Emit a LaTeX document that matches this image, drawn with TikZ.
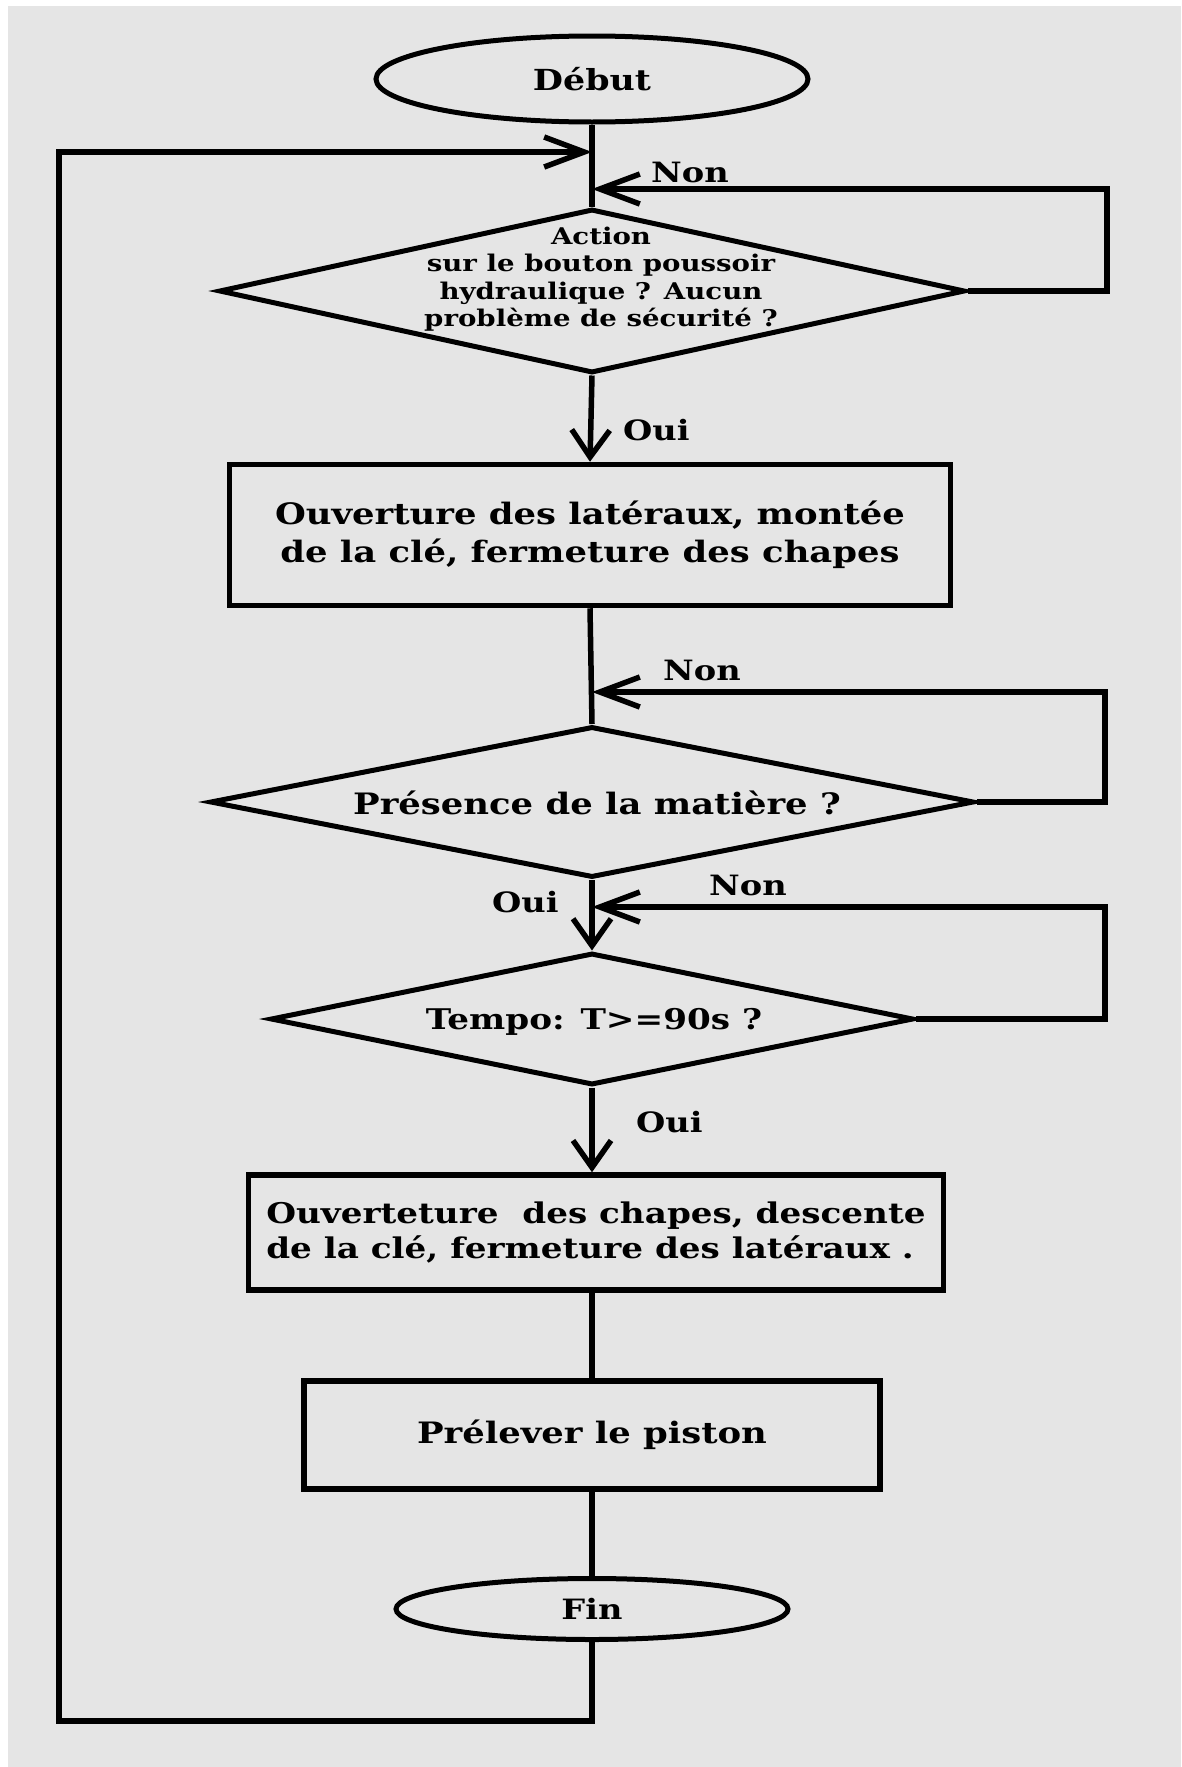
\documentclass[tikz,border=0pt]{standalone}
\usepackage{fontspec}
\setmainfont{DejaVu Serif}[FakeStretch=1.2]
\usetikzlibrary{shapes.geometric,arrows.meta}
\definecolor{bggray}{HTML}{E5E5E5}
\begin{document}
\begin{tikzpicture}[x=1pt,y=-1pt,
  ln/.style={line width=5.5pt},
  harr/.style={ln,-{Straight Barb[length=40pt,width=30pt]}},
  varr/.style={ln,-{Straight Barb[length=27pt,width=38pt]}},
  term/.style={ellipse,draw,line width=5pt,inner sep=0pt},
  dec/.style={diamond,draw,line width=5pt,inner sep=0pt},
  proc/.style={rectangle,draw,line width=5.5pt,inner sep=0pt},
  bigtxt/.style={font=\bfseries\fontsize{29.5}{38}\selectfont},
  lab/.style={anchor=base west,inner sep=0pt,font=\bfseries\fontsize{28}{32}\selectfont},
  txt/.style={align=center,inner sep=0pt}]
\fill[white] (0,0) rectangle (1181,1767);
\fill[bggray] (8,6) rectangle (1181,1767);
\useasboundingbox (0,0) rectangle (1181,1767);

% terminals
\node[term,minimum width=432pt,minimum height=86pt,font=\bfseries\fontsize{29}{34}\selectfont] (deb) at (592,79) {Début};
\node[term,minimum width=392pt,minimum height=61pt,font=\bfseries\fontsize{28}{32}\selectfont] (fin) at (592,1609) {Fin};

% decisions
\node[dec,minimum width=746pt,minimum height=164pt] (d1) at (592,291) {};
\node[txt,font=\bfseries\fontsize{23}{27.5}\selectfont] (t1) at (601,279) {Action\\sur le bouton poussoir\\hydraulique ? Aucun\\problème de sécurité ?};
\node[dec,minimum width=764pt,minimum height=151pt] (d2) at (592,802) {};
\node[txt,bigtxt] (t2) at (597,803) {Présence de la matière ?};
\node[dec,minimum width=643pt,minimum height=132pt] (d3) at (592,1019) {};
\node[txt,font=\bfseries\fontsize{28.5}{34}\selectfont] (t3) at (594,1022) {Tempo: T>=90s ?};

% processes
\node[proc,bigtxt,align=center,minimum width=721pt,minimum height=141pt] (b1) at (590,535) {Ouverture des latéraux, montée\\de la clé, fermeture des chapes};
\node[proc,font=\bfseries\fontsize{28.5}{35}\selectfont,align=left,minimum width=695pt,minimum height=115pt] (b3) at (596,1232.5) {Ouverteture\ \ des chapes, descente\\de la clé, fermeture des latéraux .};
\node[proc,bigtxt,minimum width=576pt,minimum height=108pt] (b4) at (592,1435) {Prélever le piston};

% main flow
\draw[ln] (deb.south) -- (d1.north);
\draw[varr] (d1.south) -- (b1.north);
\draw[ln] (b1.south) -- (d2.north);
\draw[varr] (d2.south) -- (d3.north);
\draw[varr] (d3.south) -- (b3.north -| d3.south);
\draw[ln] (b3.south -| b4.north) -- (b4.north);
\draw[ln] (b4.south) -- (fin.north);

% "Non" loops
\coordinate (j1) at (592,189);
\coordinate (r1) at (1107,189);
\draw[harr] (d1.east) -| (r1) -- (j1);
\coordinate (j2) at (592,692);
\coordinate (r2) at (1105,692);
\draw[harr] (d2.east) -| (r2) -- (j2);
\coordinate (j3) at (592,907);
\coordinate (r3) at (1105,907);
\draw[harr] (d3.east) -| (r3) -- (j3);

% return loop
\coordinate (lb) at (59,1721);
\coordinate (lt) at (59,152);
\coordinate (j0) at (592,152);
\draw[harr] (fin.south) |- (lb) -- (lt) -- (j0);

% labels
\node[lab] (n1) at (651,182) {Non};
\node[lab] (o1) at (623,440) {Oui};
\node[lab] (n2) at (663,680) {Non};
\node[lab] (o2) at (492,912) {Oui};
\node[lab] (n3) at (709,895) {Non};
\node[lab] (o3) at (636,1132) {Oui};
\end{tikzpicture}
\end{document}
